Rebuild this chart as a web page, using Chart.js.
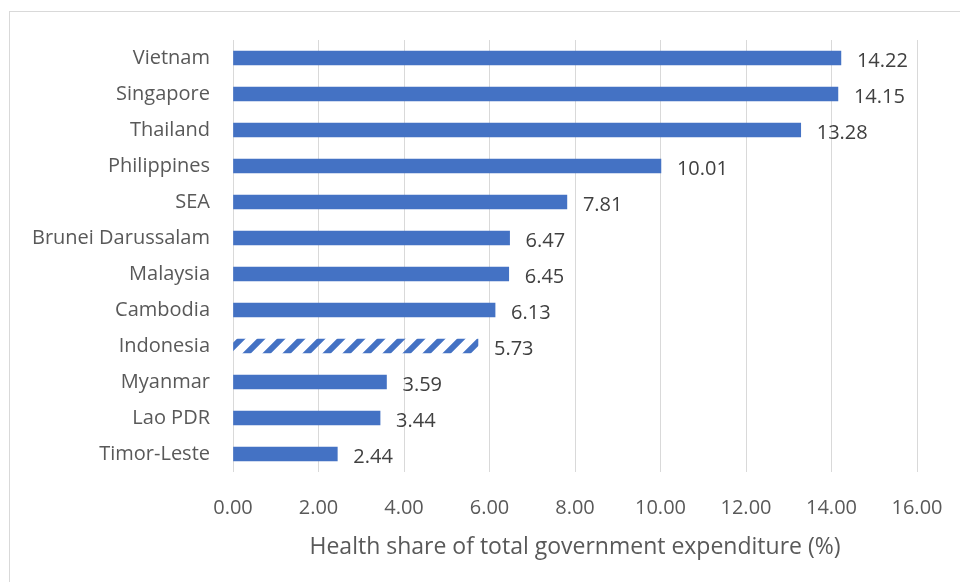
<!DOCTYPE html>
<html>
<head>
<meta charset="utf-8">
<script src="https://cdn.jsdelivr.net/npm/chart.js@4"></script>
<style>
  html, body { margin: 0; padding: 0; background: #fff; overflow: hidden; }
  #wrap { position: relative; width: 960px; height: 582px; }
  #frame { position: absolute; left: 9px; top: 11px; width: 1000px; height: 600px; border: 1px solid #d9d9d9; }
  canvas { position: absolute; left: 0; top: 0; }
</style>
</head>
<body>
<div id="wrap">
  <div id="frame"></div>
  <canvas id="chart" width="960" height="582"></canvas>
</div>
<script>
var countries = ["Vietnam", "Singapore", "Thailand", "Philippines", "SEA", "Brunei Darussalam",
  "Malaysia", "Cambodia", "Indonesia", "Myanmar", "Lao PDR", "Timor-Leste"];
var healthShare = [14.22, 14.15, 13.28, 10.01, 7.81, 6.47, 6.45, 6.13, 5.73, 3.59, 3.44, 2.44];
var hatched = ["Indonesia"];
var xTicks = [0, 2, 4, 6, 8, 10, 12, 14, 16];

var BLUE = "#4472c4";
var FONT = "'Open Sans', sans-serif";

function makeStripes() {
  var c = document.createElement("canvas");
  c.width = 20; c.height = 20;
  var g = c.getContext("2d");
  g.strokeStyle = BLUE;
  g.lineWidth = 6;
  g.beginPath();
  g.moveTo(-5, 25); g.lineTo(25, -5);
  g.moveTo(-15, 15); g.lineTo(15, -15);
  g.moveTo(5, 35); g.lineTo(35, 5);
  g.stroke();
  return g.createPattern(c, "repeat");
}

var ctx = document.getElementById("chart").getContext("2d");
var stripes = makeStripes();

var valueLabels = {
  id: "valueLabels",
  afterDatasetsDraw: function(chart) {
    var c = chart.ctx;
    var meta = chart.getDatasetMeta(0);
    c.save();
    c.font = "20px " + FONT;
    c.fillStyle = "#404040";
    c.textAlign = "left";
    c.textBaseline = "middle";
    meta.data.forEach(function(bar, i) {
      c.fillText(healthShare[i].toFixed(2), bar.x + 16, bar.y + 3);
    });
    c.restore();
  }
};

new Chart(ctx, {
  type: "bar",
  data: {
    labels: countries,
    datasets: [{
      data: healthShare,
      backgroundColor: countries.map(function(c) { return hatched.indexOf(c) >= 0 ? stripes : BLUE; }),
      barThickness: 14,
      borderWidth: 0
    }]
  },
  options: {
    indexAxis: "y",
    responsive: false,
    animation: false,
    layout: { padding: { left: 0, right: 43, top: 40, bottom: 21 } },
    plugins: { legend: { display: false }, tooltip: { enabled: false } },
    scales: {
      x: {
        min: 0, max: 16,
        afterBuildTicks: function(s) { s.ticks = xTicks.map(function(v) { return { value: v }; }); },
        afterFit: function(s) { s.height = 89; s.paddingLeft = 0; s.paddingRight = 0; },
        grid: { color: "#d9d9d9", drawTicks: false },
        border: { display: false },
        ticks: {
          padding: 24,
          color: "#595959",
          font: { family: FONT, size: 20 },
          callback: function(v) { return Number(v).toFixed(2); }
        },
        title: {
          display: true,
          text: "Health share of total government expenditure (%)",
          color: "#595959",
          font: { family: FONT, size: 23 },
          padding: { top: 6, bottom: 0 }
        }
      },
      y: {
        grid: { display: false },
        border: { display: false },
        afterFit: function(s) { s.width = 233; },
        ticks: {
          padding: 15,
          color: "#595959",
          font: { family: FONT, size: 20 }
        }
      }
    }
  },
  plugins: [valueLabels]
});
</script>
</body>
</html>
